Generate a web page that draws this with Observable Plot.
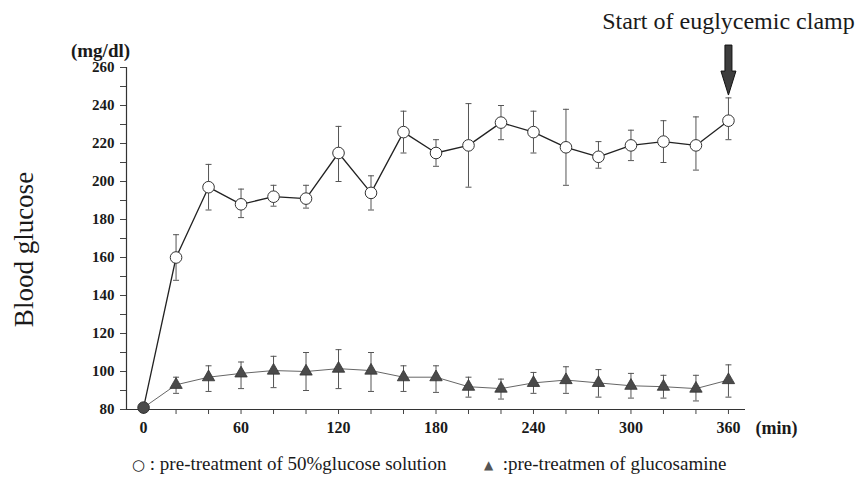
<!DOCTYPE html>
<html>
<head>
<meta charset="utf-8">
<script src="https://cdn.jsdelivr.net/npm/d3@7"></script>
<script src="https://cdn.jsdelivr.net/npm/@observablehq/plot@0.6"></script>
<style>
  html, body { margin: 0; padding: 0; background: #fff; }
  body { position: relative; width: 864px; height: 490px; overflow: hidden; font-family: "Liberation Serif", "Times New Roman", serif; color: #1a1a1a; }
  #chart svg { display: block; }
  .leg { position: absolute; top: 453px; font-size: 19px; white-space: nowrap; color: #1a1a1a; }
  .leg .sym { font-family: "DejaVu Sans", sans-serif; font-size: 15px; }
  .leg .tri { color: #555; font-size: 12px; vertical-align: 1px; }
</style>
</head>
<body>
<div id="chart"></div>
<div class="leg" style="left:132px"><span class="sym">○</span> : pre-treatment of 50%glucose solution</div>
<div class="leg" style="left:484px"><span class="sym tri">▲</span>&nbsp; :pre-treatmen of glucosamine</div>
<script>
// ---- data ----
const times = [0, 20, 40, 60, 80, 100, 120, 140, 160, 180, 200, 220, 240, 260, 280, 300, 320, 340, 360];

const glucoseMean = [81, 160, 197, 188, 192, 191, 215, 194, 226, 215, 219, 231, 226, 218, 213, 219, 221, 219, 232];
const glucoseLo   = [81, 148, 185, 181, 187, 186, 200, 185, 215, 208, 197, 222, 215, 198, 207, 211, 210, 206, 222];
const glucoseHi   = [81, 172, 209, 196, 198, 198, 229, 203, 237, 222, 241, 240, 237, 238, 221, 227, 232, 234, 244];

const glucosamineMean = [81, 93, 97, 99, 100.5, 100, 101.5, 100.5, 97, 97, 92, 91, 94, 95.5, 94, 92.5, 92, 91, 95.5];
const glucosamineLo   = [81, 88.5, 89.5, 91, 91.5, 90, 91, 89.5, 89.5, 89, 86.5, 85.5, 88.5, 88.5, 86.5, 86, 86, 84.5, 86.5];
const glucosamineHi   = [81, 97, 103, 105, 108, 110, 111.5, 110, 103, 103, 97, 96, 99.5, 102.5, 101, 99, 98, 98, 103.5];

const xTickValues = [0, 20, 40, 60, 80, 100, 120, 140, 160, 180, 200, 220, 240, 260, 280, 300, 320, 340, 360];
const xTickLabels = [0, 60, 120, 180, 240, 300, 360];
const yTickValues = [80, 90, 100, 110, 120, 130, 140, 150, 160, 170, 180, 190, 200, 210, 220, 230, 240, 250, 260];
const yTickLabels = [80, 100, 120, 140, 160, 180, 200, 220, 240, 260];

const clampTime = 360;
const clampArrowTip = 245.5;
const titleText = "Start of euglycemic clamp";
const yTitle = "Blood glucose";
const yUnit = "(mg/dl)";
const xUnit = "(min)";

// ---- tables ----
const glucoseRows = times.map((t, i) => ({t, mean: glucoseMean[i], lo: glucoseLo[i], hi: glucoseHi[i]}));
const glucosamineRows = times.map((t, i) => ({t, mean: glucosamineMean[i], lo: glucosamineLo[i], hi: glucosamineHi[i]}));
const barRows = [...glucoseRows, ...glucosamineRows].filter(d => d.hi > d.lo);

const capSymbol = { draw(ctx) { ctx.moveTo(-3, 0); ctx.lineTo(3, 0); } };
const arrowSymbol = { draw(ctx) {
  ctx.moveTo(-3.5, -50); ctx.lineTo(3.5, -50); ctx.lineTo(3.5, -24);
  ctx.lineTo(7.5, -24); ctx.lineTo(0, 0); ctx.lineTo(-7.5, -24);
  ctx.lineTo(-3.5, -24); ctx.closePath();
} };

const xDomain = [-10.5, 370.5];
const yDomain = [80, 260];
const ink = "#1a1a1a";

const chart = Plot.plot({
  width: 864,
  height: 440,
  marginLeft: 126,
  marginRight: 119,
  marginTop: 67,
  marginBottom: 31,
  style: { fontFamily: "'Liberation Serif', 'Times New Roman', serif", color: ink, background: "white" },
  x: { domain: xDomain, label: null },
  y: { domain: yDomain, label: null },
  marks: [
    Plot.axisY({ ticks: yTickValues, tickFormat: d => yTickLabels.includes(d) ? d : "", tickSize: 6, tickPadding: 6, fontSize: 15, fontWeight: "bold", stroke: "#444", label: null }),
    Plot.axisX({ ticks: xTickValues, tickFormat: d => xTickLabels.includes(d) ? d : "", tickSize: 5, tickPadding: 7, fontSize: 16, fontWeight: "bold", stroke: "#444", label: null }),
    Plot.ruleY([yDomain[0]], { stroke: "#333", strokeWidth: 1.2 }),
    Plot.ruleX([xDomain[0]], { stroke: "#333", strokeWidth: 1.2 }),
    // error bars
    Plot.ruleX(barRows, { x: "t", y1: "lo", y2: "hi", stroke: "#555", strokeWidth: 1 }),
    Plot.dot(barRows, { x: "t", y: "lo", symbol: capSymbol, fill: "none", stroke: "#555", strokeWidth: 1, r: 3 }),
    Plot.dot(barRows, { x: "t", y: "hi", symbol: capSymbol, fill: "none", stroke: "#555", strokeWidth: 1, r: 3 }),
    // lines
    Plot.line(glucosamineRows, { x: "t", y: "mean", stroke: "#666", strokeWidth: 1 }),
    Plot.line(glucoseRows, { x: "t", y: "mean", stroke: "#222", strokeWidth: 1.3 }),
    // markers
    Plot.dot(glucoseRows, { x: "t", y: "mean", r: 5.8, stroke: "#333", strokeWidth: 1, fill: d => d.t === 0 ? "#4a4a4a" : "white" }),
    Plot.dot(glucosamineRows.filter(d => d.t > 0), { x: "t", y: "mean", symbol: "triangle", r: 4.6, fill: "#4a4a4a", stroke: "#333", strokeWidth: 0.8 }),
    // annotation arrow and texts
    Plot.dot([clampTime], { x: d => d, y: () => clampArrowTip, symbol: arrowSymbol, r: 5, fill: "#3d3d3d", stroke: "#111", strokeWidth: 1 }),
    Plot.text([titleText], { x: () => clampTime, frameAnchor: "top", dy: -46, text: d => d, fontSize: 24, textAnchor: "middle", lineAnchor: "middle", fill: ink }),
    Plot.text([yUnit], { frameAnchor: "top-left", dx: -26, dy: -17, text: d => d, fontSize: 19, fontWeight: "bold", textAnchor: "middle", lineAnchor: "middle", fill: ink }),
    Plot.text([xUnit], { frameAnchor: "bottom-right", dx: 31, dy: 19, text: d => d, fontSize: 18, fontWeight: "bold", textAnchor: "middle", lineAnchor: "middle", fill: ink }),
    Plot.text([yTitle], { frameAnchor: "left", dx: -102, dy: 11, rotate: -90, text: d => d, fontSize: 27, textAnchor: "middle", lineAnchor: "middle", fill: ink })
  ]
});
document.getElementById("chart").appendChild(chart);
</script>
</body>
</html>
